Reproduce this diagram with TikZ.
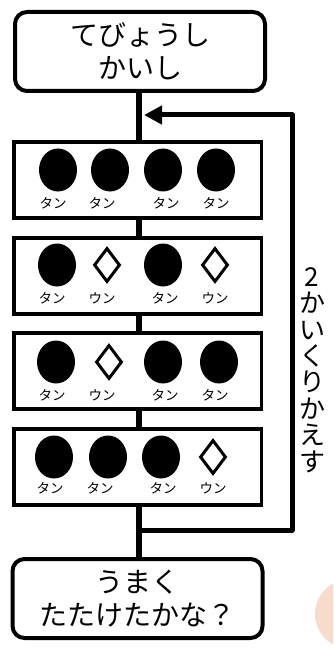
\documentclass[tikz,border=0pt]{standalone}
\usepackage{fontspec}
\setmainfont{Noto Sans CJK JP}
\usetikzlibrary{arrows.meta,shapes.geometric}
\definecolor{peach}{RGB}{248,220,203}
\begin{document}
\begin{tikzpicture}[x=1pt,y=-1pt,
  roundbox/.style={draw,line width=4pt,rounded corners=12pt,minimum width=250pt,minimum height=79pt,inner sep=0pt,align=center,font=\fontsize{28}{33}\selectfont},
  patbox/.style={draw,line width=3.5pt,minimum width=247.5pt,minimum height=76pt,inner sep=0pt},
  tan/.style={fill=black,ellipse,minimum width=38pt,minimum height=43pt,inner sep=0pt},
  un/.style={draw,line width=3pt,diamond,minimum width=26pt,minimum height=34pt,inner sep=0pt,aspect=0.76},
  lbl/.style={font=\fontsize{13.5}{13.5}\selectfont,inner sep=0pt},
  flow/.style={line width=6.5pt},
  looppath/.style={line width=5pt,line join=round}]
\useasboundingbox (0,0) rectangle (333,655);
\begin{scope}
\clip (0,0) rectangle (333,655);
\fill[peach] (348,614) ellipse [x radius=33, y radius=34];
\end{scope}
% main nodes
\node[roundbox] (start) at (140,51.5) {てびょうし\\かいし};
\node[patbox] (b1) at (137.5,180) {};
\node[patbox] (b2) at (137.5,276) {};
\node[patbox] (b3) at (137.5,371) {};
\node[patbox] (b4) at (137.5,467) {};
\node[roundbox] (end) at (137.5,598.5) {うまく\\たたけたかな？};
% connectors
\coordinate (m1) at (139,93);
\draw[flow] (start.south -| m1) -- (b1.north -| m1);
\draw[flow] (b1.south -| m1) -- (b2.north -| m1);
\draw[flow] (b2.south -| m1) -- (b3.north -| m1);
\draw[flow] (b3.south -| m1) -- (b4.north -| m1);
\draw[flow] (b4.south -| m1) -- (end.north -| m1);
\coordinate (lb) at (139,530);
\coordinate (lbr) at (292,530);
\coordinate (ltr) at (292,115);
\coordinate (lt) at (144,115);
\draw[looppath,-{Triangle[length=18pt,width=18pt]}] (lb) -- (lbr) -- (ltr) -- (lt);
\node[font=\fontsize{26}{26.4}\selectfont,align=center,inner sep=0pt] (rep) at (312,370) {2\\か\\い\\く\\り\\か\\え\\す};
% box 1
\node[tan] (b1a) at (58,170) {};
\node[tan] (b1b) at (110,170) {};
\node[tan] (b1c) at (163,170) {};
\node[tan] (b1d) at (216,170) {};
\node[lbl] (b1la) at (53,203) {タン};
\node[lbl] (b1lb) at (102,203) {タン};
\node[lbl] (b1lc) at (166,203) {タン};
\node[lbl] (b1ld) at (216,203) {タン};
% box 2
\node[tan] (b2a) at (57,265) {};
\node[un] (b2b) at (107,265) {};
\node[tan] (b2c) at (163,265) {};
\node[un] (b2d) at (215,265) {};
\node[lbl] (b2la) at (52,298) {タン};
\node[lbl] (b2lb) at (102,298) {ウン};
\node[lbl] (b2lc) at (165,298) {タン};
\node[lbl] (b2ld) at (215,298) {ウン};
% box 3
\node[tan] (b3a) at (56,362) {};
\node[un] (b3b) at (109,362) {};
\node[tan] (b3c) at (163,362) {};
\node[tan] (b3d) at (219,362) {};
\node[lbl] (b3la) at (52,395) {タン};
\node[lbl] (b3lb) at (102,395) {ウン};
\node[lbl] (b3lc) at (165,395) {タン};
\node[lbl] (b3ld) at (215,395) {タン};
% box 4
\node[tan] (b4a) at (54,457) {};
\node[tan] (b4b) at (108,457) {};
\node[tan] (b4c) at (161,457) {};
\node[un] (b4d) at (213,457) {};
\node[lbl] (b4la) at (50,488) {タン};
\node[lbl] (b4lb) at (100,488) {タン};
\node[lbl] (b4lc) at (163,488) {タン};
\node[lbl] (b4ld) at (213,488) {ウン};
\end{tikzpicture}
\end{document}
